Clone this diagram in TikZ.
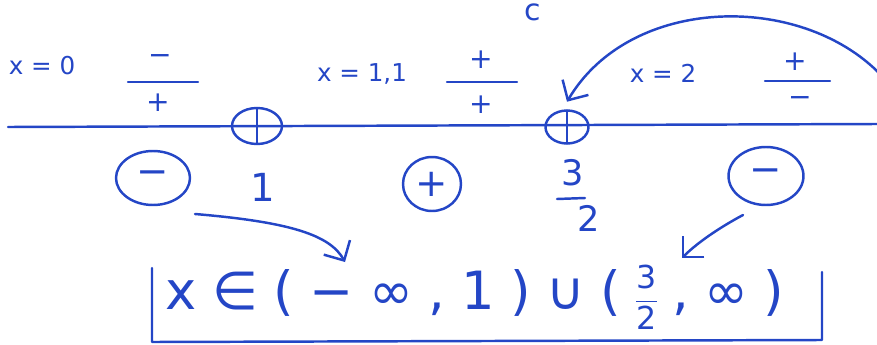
\documentclass[tikz,border=0pt]{standalone}
\usepackage{fontspec}
\setmainfont{DejaVu Sans}
\usetikzlibrary{arrows.meta,shapes.geometric}
\definecolor{penBlue}{HTML}{2446C6}
\newcommand{\hwfrac}[2]{{\fontsize{18}{20}\selectfont
  \begin{tabular}{@{}c@{}}#1\\[1pt]\hline\noalign{\vskip2pt}#2\end{tabular}}}
\tikzset{
  hw diagram/.style={x=0.02cm, y=-0.02cm, text=penBlue, draw=penBlue,
    line width=1.4pt, line cap=round, line join=round},
  hw note/.style={font=\fontsize{14}{16}\selectfont, inner sep=1pt},
  hw sign/.style={font=\fontsize{16}{18}\selectfont, inner sep=1pt},
  hw digit/.style={font=\fontsize{22}{24}\selectfont, inner sep=1pt},
  hw root/.style={ellipse, draw=penBlue, line width=1.4pt, inner sep=0pt,
    outer sep=5pt},
  hw ring/.style={ellipse, draw=penBlue, line width=1.4pt, inner sep=0pt,
    font=\fontsize{22}{24}\selectfont},
  hw arrow/.style={-{Straight Barb[length=3mm,width=6mm]}, draw=penBlue,
    line width=1.4pt},
  hw answer/.style={font=\fontsize{30}{34}\selectfont, inner sep=2pt}
}

\begin{document}
\begin{tikzpicture}[hw diagram]
\useasboundingbox (0,0) rectangle (877,345);
% number line with the two roots
\draw (8,127) -- (877,124);
\node[hw root, minimum width=1.0cm, minimum height=0.72cm] (rootA) at (257,126) {};
\node[hw root, minimum width=0.86cm, minimum height=0.66cm] (rootB) at (567,127) {};
\foreach \r in {rootA,rootB}
  \draw[shorten <=5pt, shorten >=5pt] (\r.north) -- (\r.south);

% test points and sign of the quotient
\node[hw note] (testA) at (42,66) {x = 0};
\node[hw note] (testB) at (362,74) {x = 1,1};
\node[hw note] (testC) at (663,73) {x = 2};
\node[hw sign] (numA) at (160,60) {−};
\node[hw sign] (denA) at (158,103) {+};
\draw (128,82) -- (198,82);
\node[hw sign] (numB) at (481,60) {+};
\node[hw sign] (denB) at (481,105) {+};
\draw (447,82) -- (517,82);
\node[hw sign] (numC) at (795,62) {+};
\node[hw sign] (denC) at (800,102) {−};
\draw (765,81) -- (830,81);
\node[hw sign, font=\fontsize{17}{19}\selectfont] (stray) at (533,12) {c};

% signs under the line
\node[hw ring, minimum width=1.48cm, minimum height=1.08cm] (signL) at (153,178) {−};
\node[hw digit] (rootOne) at (263,187) {1};
\node[hw ring, minimum width=1.16cm, minimum height=1.08cm] (signM) at (432,184) {+};
\node[hw sign, font=\fontsize{20}{22}\selectfont] (rootNum) at (573,173) {3};
\node[hw sign, font=\fontsize{20}{22}\selectfont] (rootDen) at (589,218) {2};
\draw (557,199) -- (585,198);
\node[hw ring, minimum width=1.5cm, minimum height=1.16cm] (signR) at (766,176) {−};

% result
\node[hw answer] (answer) at (475,302)
  {\spaceskip=0.31cm x ∈ ( − ∞ , 1 ) ∪ ( \hwfrac{3}{2} , ∞ )};
\draw (152,268) -- (152,342) -- (822,340) -- (822,272);

% arrows
\coordinate (sweepStart) at (880,74);
\draw[hw arrow] (sweepStart) .. controls (800,-8) and (630,-5) .. (rootB.north);
\coordinate (tailL) at (195,214);
\coordinate (tipL) at (345,262);
\draw[hw arrow] (tailL) .. controls (290,222) and (330,235) .. (tipL);
\coordinate (tailR) at (743,215);
\coordinate (tipR) at (682,258);
\draw[hw arrow] (tailR) .. controls (715,230) and (695,245) .. (tipR);
\end{tikzpicture}
\end{document}
